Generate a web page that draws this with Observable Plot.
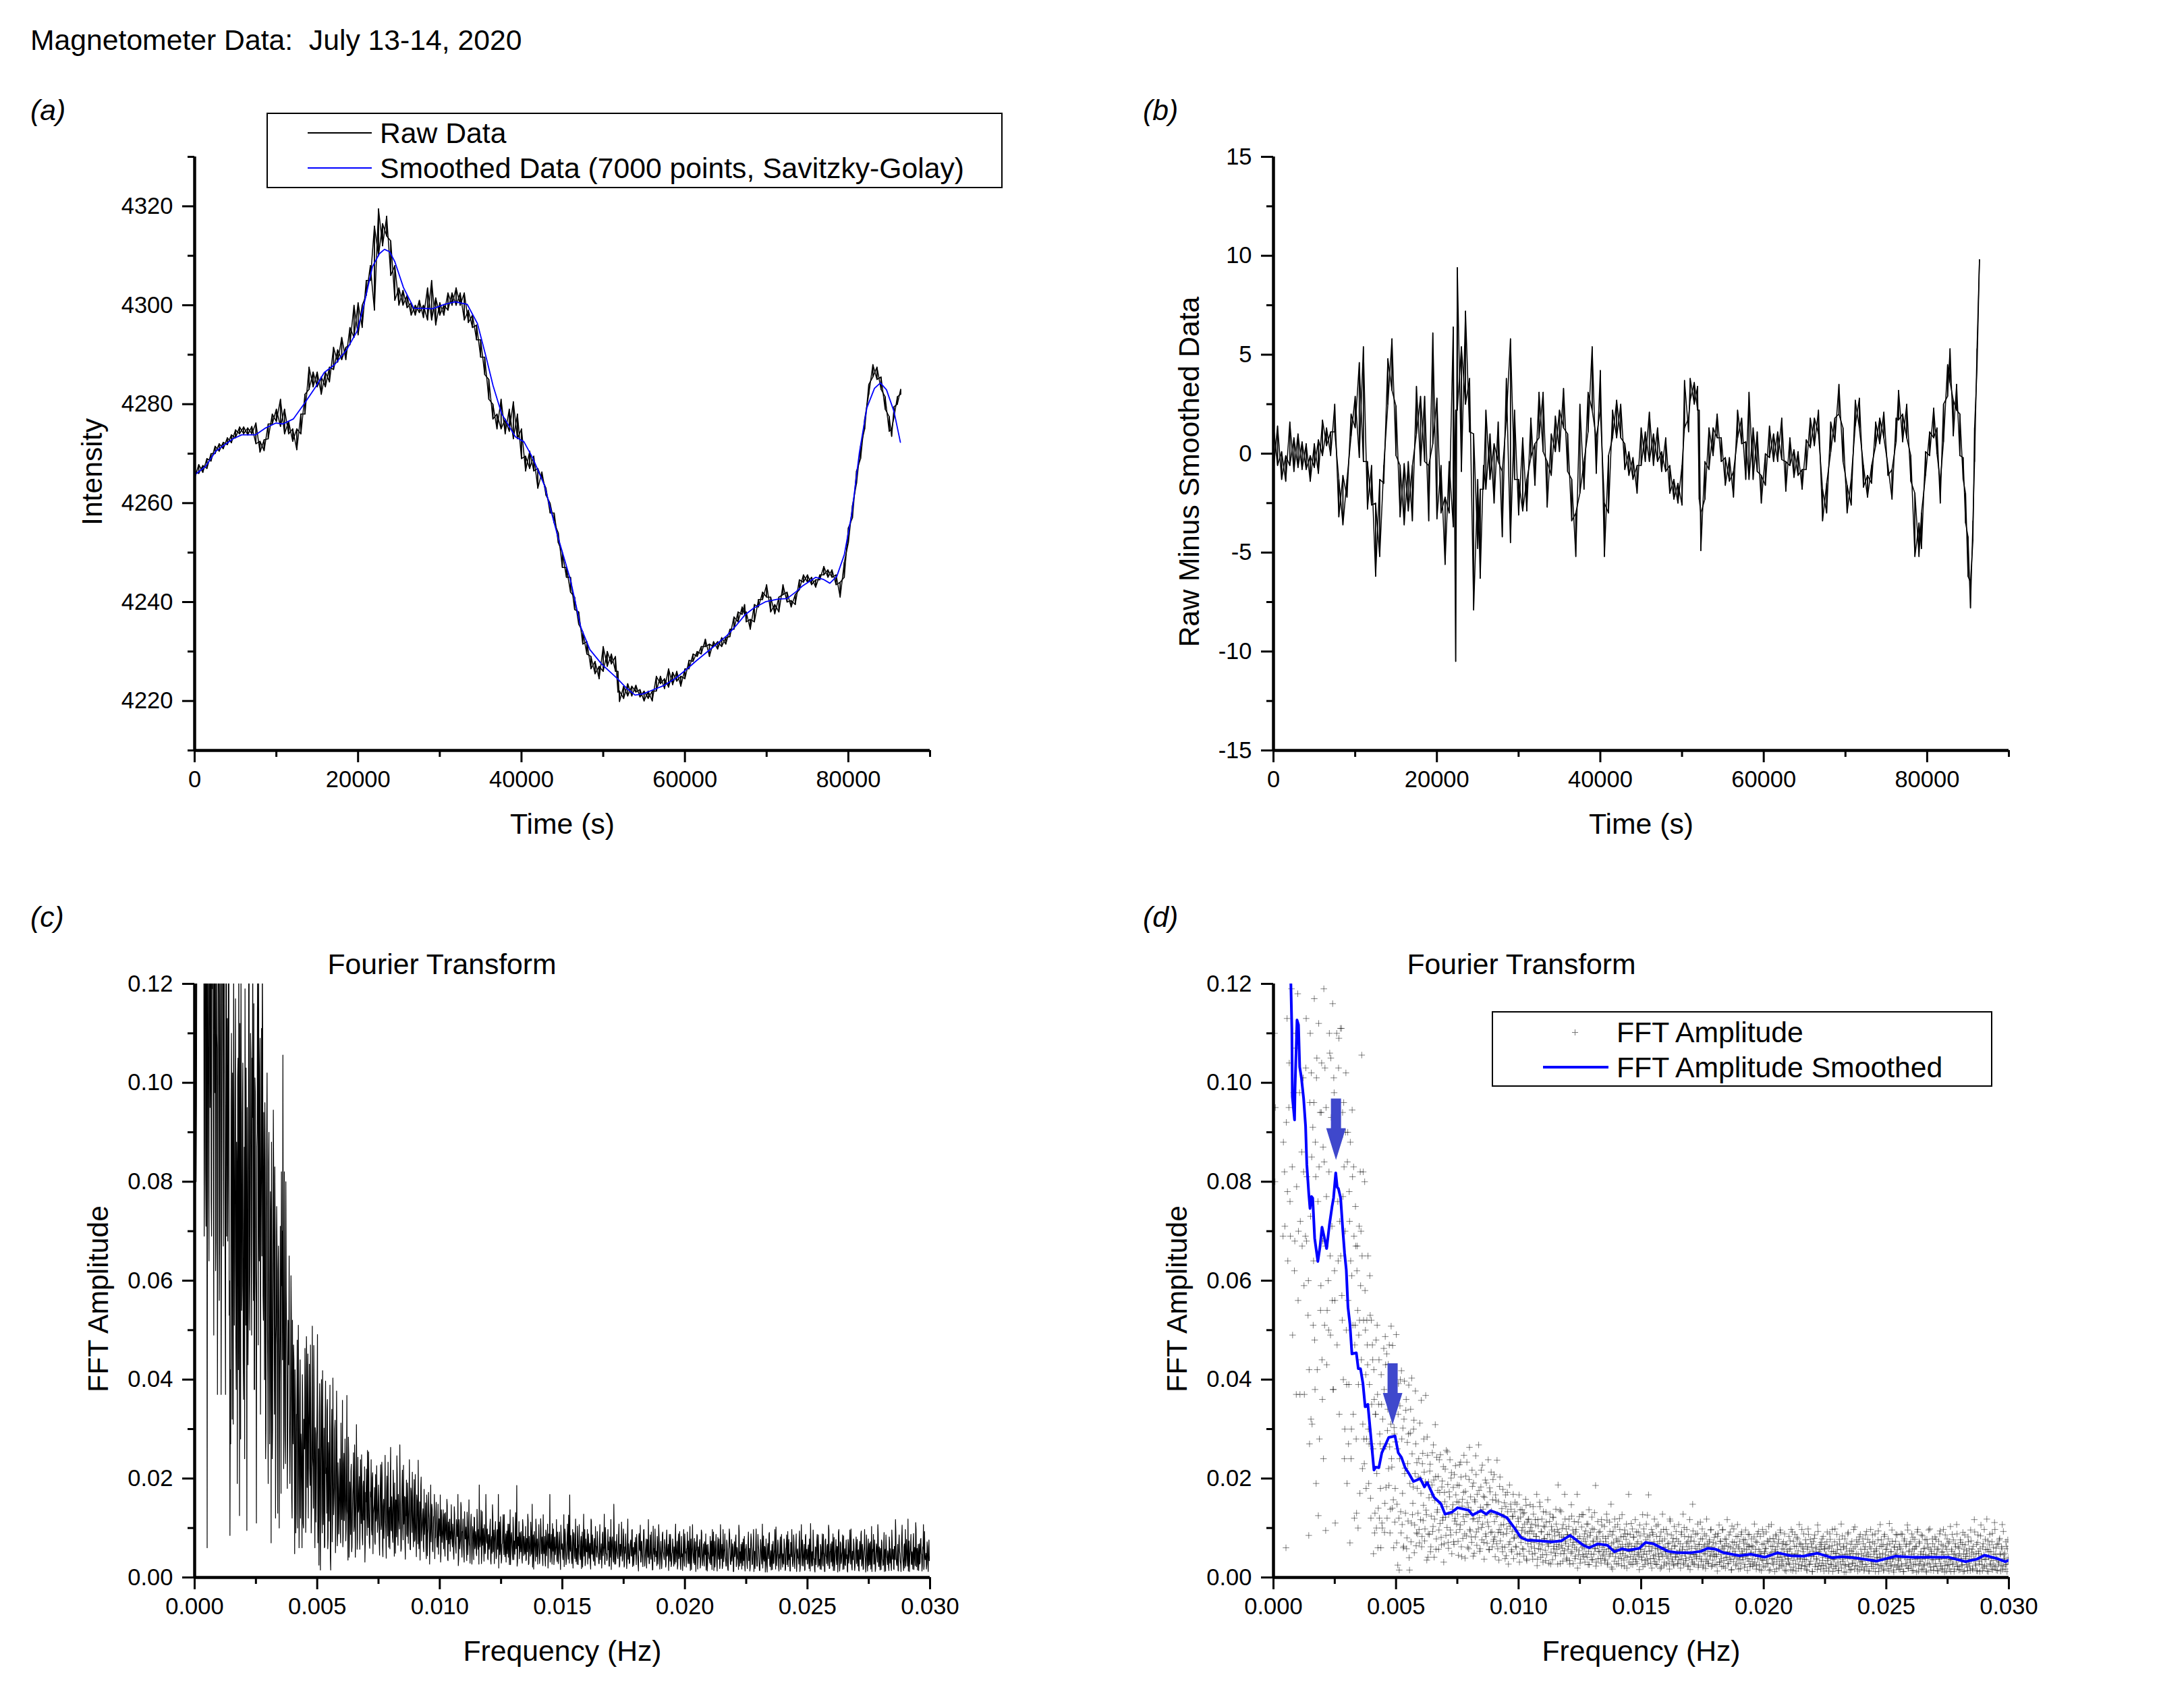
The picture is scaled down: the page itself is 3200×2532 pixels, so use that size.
<!DOCTYPE html>
<html><head><meta charset="utf-8">
<script src="https://cdn.jsdelivr.net/npm/d3@7"></script>
<script src="https://cdn.jsdelivr.net/npm/@observablehq/plot@0.6"></script>
<style>
html,body{margin:0;padding:0;background:#fff}
#page{position:relative;width:3200px;height:2532px;overflow:hidden;font-family:"Liberation Sans",Arial,sans-serif;color:#000;background:#fff}
#page>svg{position:absolute;overflow:visible}
.t{position:absolute;white-space:pre;font-size:42.7px;line-height:1;transform:translateY(-50%)}
.box{position:absolute;border:2px solid #000;background:#fff;box-sizing:border-box}
.ln{position:absolute}
</style></head><body><div id="page"></div>
<script>
// time (s), low, high of the raw trace in panel (a)
const rawA=[[0,4265,4266.5],[500,4266,4267.8],[1000,4266.2,4267.6],[1500,4267,4269],[2000,4268.5,4270],[2500,4270,4271.5],[3000,4270.5,4272],[3500,4271,4272.3],[4000,4271.8,4273.2],[4500,4272.2,4273.8],[5000,4273.2,4274.8],[5500,4274,4275.4],[6000,4274,4275.4],[6500,4273.8,4275.2],[7000,4274,4275.5],[7500,4272,4276.2],[8000,4270.3,4272.5],[8500,4270.6,4272.8],[9000,4273,4276],[9500,4276,4278],[10000,4276.5,4279],[10500,4275.5,4281],[11000,4274,4279],[11500,4274,4276.5],[12000,4272.5,4275],[12500,4270.8,4275],[13000,4274,4278],[13500,4278,4282],[14000,4283,4287.5],[14500,4283.5,4286.5],[15000,4283.5,4286.5],[15500,4282,4285.5],[16000,4283.5,4286.5],[16500,4284.5,4287.5],[17000,4287,4291.5],[17500,4288.5,4291],[18000,4289,4293.5],[18500,4289,4291.5],[19000,4292,4295.5],[19500,4293.5,4300],[20000,4294,4300.5],[20500,4295.5,4300],[21000,4302,4305],[21500,4305,4308],[22000,4299,4316],[22500,4310,4319.5],[23000,4312,4316.5],[23500,4314,4318],[24000,4306,4313],[24500,4301,4308],[25000,4300,4303.5],[25500,4300,4303],[26000,4299.5,4302],[26500,4298,4300.5],[27000,4298,4300],[27500,4298.5,4301],[28000,4297.5,4300],[28500,4297,4303.5],[29000,4297,4305],[29500,4296,4301.5],[30000,4298,4300.5],[30500,4298,4300],[31000,4299,4302.5],[31500,4300,4302.5],[32000,4300,4303.5],[32500,4300,4302.5],[33000,4297,4302.5],[33500,4296.5,4299],[34000,4295.5,4298],[34500,4293,4296],[35000,4289.5,4293],[35500,4286,4289.5],[36000,4281,4285],[36500,4277,4280],[37000,4275,4278],[37500,4275,4281],[38000,4274,4277],[38500,4274.5,4279],[39000,4273,4280.5],[39500,4273,4278],[40000,4269,4275],[40500,4266.5,4269.5],[41000,4267,4270.5],[41500,4266.5,4269.5],[42000,4263,4267],[42500,4265,4266.3],[43000,4261.6,4263],[43500,4258,4260],[44000,4256,4258],[44500,4252,4254],[45000,4247,4250],[45500,4245,4247],[46000,4242,4245],[46500,4238.5,4241],[47000,4235.5,4238],[47500,4231.5,4234],[48000,4229.5,4232],[48500,4226.5,4229],[49000,4225.5,4228],[49500,4224.5,4227],[50000,4226,4231],[50500,4227,4230],[51000,4227.5,4229.5],[51500,4226,4229],[51800,4221.8,4226],[52000,4219.9,4222],[52500,4220.5,4223],[53000,4221,4223.5],[53500,4221,4223],[54000,4221.8,4223.2],[54500,4220.8,4222.3],[55000,4220,4222],[55500,4220.5,4222],[56000,4220,4222],[56500,4222,4225],[57000,4223.5,4225],[57500,4222.5,4224.5],[58000,4222.8,4226.5],[58500,4223.3,4225.8],[59000,4224,4226],[59500,4223,4225],[60000,4224.5,4226.5],[60500,4226.5,4228.2],[61000,4228,4229.5],[61500,4229,4230],[62000,4229.5,4231],[62500,4231,4232.5],[63000,4229,4231.5],[63500,4231,4232],[64000,4230.5,4232],[64500,4231,4232.8],[65000,4231.5,4232.8],[65500,4233,4234.5],[66000,4234.5,4237],[66500,4236,4238],[67000,4237.5,4239],[67300,4237.5,4239.5],[67500,4236,4238],[68000,4234.5,4236.5],[68500,4236,4239.5],[69000,4239,4240.5],[69500,4240.5,4242],[70000,4241,4243.5],[70500,4238,4241],[71000,4237.6,4239.5],[71500,4238,4241],[72000,4241.5,4243.5],[72500,4240,4242],[73000,4239,4240.3],[73500,4239.5,4241.5],[74000,4242.5,4244.5],[74500,4244,4245.5],[75000,4244,4245.5],[75500,4243.5,4245],[76000,4243,4244.5],[76500,4244.5,4245.5],[77000,4245.5,4247.2],[77500,4245,4246.5],[78000,4245,4246.5],[78500,4243.5,4245.5],[79000,4241,4244],[79500,4245,4248],[80000,4252,4255],[80500,4257,4259.5],[81000,4264,4266.5],[81500,4269,4271.5],[82000,4275,4277],[82500,4282,4284],[83000,4285.5,4288],[83500,4285,4287.5],[84000,4283,4285.5],[84500,4279,4281.5],[85000,4274.5,4277.5],[85300,4273.5,4275],[85600,4277.5,4279.5],[86000,4280,4281.5],[86400,4282,4283]];
// smoothed trace in panel (a): time, intensity
const smoothA=[[0,4265.7],[1330,4267.4],[2590,4270.5],[4700,4273],[5750,4273.8],[7440,4273.8],[8700,4275.2],[9960,4276.2],[10800,4276],[12070,4277],[13540,4280.4],[14810,4283.5],[15860,4286.4],[17130,4288],[18600,4291],[19860,4294.7],[20700,4300],[21760,4307.8],[22600,4310.4],[23230,4311.3],[23870,4310.8],[24500,4308.8],[25550,4303.6],[26820,4299.4],[29130,4299.3],[30600,4300.2],[31880,4300.7],[33350,4300.2],[34610,4296.3],[35670,4289.5],[36510,4283.8],[37560,4278.1],[39250,4273.4],[40300,4272.4],[41350,4269.2],[42830,4263.5],[43460,4259.4],[44490,4253],[45970,4244.6],[47260,4234.9],[48360,4230.4],[49840,4227.4],[51680,4224.6],[52790,4222.7],[53890,4221.2],[54810,4221.4],[55730,4222],[57390,4223.1],[58870,4224.6],[60340,4226.6],[61450,4228.2],[63290,4230.7],[65130,4233.2],[66240,4235.2],[67340,4237.4],[68450,4238.8],[69920,4240.1],[71400,4240.6],[72500,4240.7],[73610,4242.1],[74350,4243.2],[76010,4245],[76930,4244.6],[77740,4243.8],[78590,4245.2],[79510,4249.6],[80430,4257.9],[81350,4270.2],[82270,4279.3],[83200,4283.2],[83930,4284.3],[84670,4282.9],[85590,4278.5],[86370,4272.3]];
// residual in panel (b): time, low, high
const rawB=[[0,-.8,1.4],[500,-.6,1.4],[1000,-1.3,.1],[1500,-1.4,-.1],[2000,-.6,1.6],[2500,-.9,.8],[3000,-.7,1],[3500,-.8,.6],[4000,-.8,.5],[4500,-1.4,-.1],[5000,-.7,.5],[5500,-1,.7],[6000,-.1,1.7],[6500,.4,1.3],[7000,-.1,1.1],[7500,1.1,2.5],[8000,-3.2,-1.3],[8500,-3.6,-1.1],[9000,-2.2,-1.3],[9500,.9,2],[10000,1.3,2.9],[10500,-.2,4.6],[11000,-.4,5.4],[11500,-2.8,-.4],[12000,-2.6,-.6],[12500,-6.2,-2.5],[13000,-5.2,-1.3],[13500,-1.5,-.6],[14000,2.5,4.8],[14500,3.2,5.8],[15000,-.1,2.4],[15500,-3.2,-.6],[16000,-3.6,-.5],[16500,-2.9,-.4],[17000,-3.4,-.6],[17500,1,3.4],[18000,-.6,2.9],[18500,-.4,2.9],[19000,-3.4,-.6],[19500,.5,6.1],[20000,-3.3,2.8],[20500,-3,-.6],[21000,-5.6,-2.2],[21500,-3,-.4],[22000,-3.7,6.4],[22300,-10.5,2.2],[22500,2.2,9.4],[23000,-.9,5.4],[23500,2.5,7.2],[24000,1.1,3.8],[24500,-7.9,1],[25000,-4.8,-1.3],[25300,-6.3,-1.8],[25700,-1.8,-.6],[26000,-1.8,2.2],[26500,-1.3,1],[27000,-2.5,.5],[27500,-.4,1.6],[28000,-4.2,-.9],[28500,1.7,3.8],[29000,-4.5,5.8],[29500,-1.3,2.2],[30000,-3.1,-1.3],[30500,-2.9,.8],[31000,-2.9,-1.3],[31500,-.2,1.8],[32000,-1.6,.5],[32500,.8,3.1],[33000,.1,3.1],[33500,-2.7,-.4],[34000,-1.1,1],[34500,.1,1.9],[35000,.1,2.2],[35500,1.3,3.3],[36000,-.9,1],[36500,-3.4,-1.3],[37000,-5.2,-3],[37500,-2,2.5],[38000,-1.8,-.4],[38500,1.1,3.1],[39000,2.2,5.4],[39500,-1,.8],[40000,2.2,4.2],[40500,-5.2,-2.5],[41000,-3,-.1],[41500,.8,2.2],[42000,.8,2.7],[42500,.8,2.5],[43000,-.8,.5],[43500,-1.1,.1],[44000,-1.3,-.2],[44500,-2,-.6],[45000,-.6,1.3],[45500,-.4,1.1],[46000,-.4,2.1],[46500,-.6,1],[47000,-.4,1.3],[47500,-.9,.1],[48000,-.9,.8],[48500,-2,-.6],[49000,-2.3,-1.3],[49500,-2.5,-1.5],[50000,-2.6,-.6],[50300,1.3,3.7],[50800,1.1,1.8],[51000,2.7,3.8],[51500,2.5,3.6],[51900,2.2,3.4],[52100,-2.3,2.2],[52300,-4.9,-3],[52800,-2.3,-.4],[53300,-.8,1.3],[53800,-.1,1.3],[54300,.8,2],[54800,-.4,.8],[55300,-1.6,-.2],[55800,-1.4,-.2],[56300,-2.2,-.9],[56800,.8,2.2],[57300,.5,1.8],[57800,-1.3,.6],[58200,-1.3,3.1],[58700,-1.3,1.3],[59200,-.9,1.1],[59700,-2.5,-1.1],[60200,-1.6,0],[60700,-.2,1.4],[61200,-.4,1],[61700,-.4,1.1],[62200,-.3,1.8],[62700,-1.9,-.4],[63200,-.6,.8],[63700,-1.2,.2],[64200,-1.1,.1],[64700,-1.8,-.8],[65200,-.8,.7],[65700,.3,1.8],[66200,.4,1.8],[66700,1,2.2],[67200,-3.4,-1.8],[67700,-3,-1.5],[68200,.1,1.6],[68700,.6,1.8],[69200,2,3.5],[69700,-.4,1.3],[70200,-3,-1.6],[70700,-2.6,-1.3],[71200,1.4,2.7],[71700,1.3,2.8],[72200,-1.7,-.6],[72700,-2.2,-1.1],[73200,-1.5,-.6],[73700,.4,1.6],[74200,.5,1.8],[74700,.8,2.1],[75200,-1.1,-.6],[75700,-2.3,-.8],[76200,.6,1.8],[76500,1.7,3.2],[77000,.6,2],[77500,.8,2.5],[78000,-1.4,-.1],[78500,-5.2,-2],[79000,-5.2,-3.5],[79300,-4.8,-3],[79800,-1.1,.1],[80300,-.1,1.1],[80800,.8,2.3],[81200,0,1.3],[81600,-2.5,-1.4],[82000,.6,2.5],[82500,2.9,4.5],[82800,3.6,5.3],[83200,.9,2.7],[83600,2.2,3.5],[84000,-.1,2],[84400,-1.3,-.2],[84700,-3.5,-2],[85000,-6.2,-4.2],[85300,-7.8,-6.5],[85600,-4.4,-3.4],[85800,-.4,1.3],[86100,4.3,5.3],[86400,9.8,9.8]];
// FFT amplitude, in units of 0.0001, one value every 0.00003 Hz
const fftBin=0.00003;
const fftE4=[9000,1900,800,1300,1600,2600,3000,2200,2800,3500,2400,1900,2100,690,1500,820,1800,60,1450,780,1700,950,1350,690,1600,1250,490,1900,1400,680,1100,370,1500,1180,700,1320,370,1650,1230,670,1400,820,370,1700,1030,680,1310,530,85,270,
1100,320,850,1250,510,960,480,880,190,1050,1300,125,830,1240,540,940,440,680,240,840,1030,95,770,540,1280,500,1100,650,1050,1300,560,380,1010,620,110,900,1100,1250,640,1090,720,1110,1260,570,940,400,830,300,900,500,
190,900,270,780,70,640,300,945,510,830,120,510,670,130,670,100,490,520,820,700,1056,220,820,280,800,500,180,520,430,300,270,610,160,520,270,440,48,360,130,330,100,510,60,350,120,270,60,350,100,260,
463,91,487,182,452,297,431,186,264,138,508,223,469,157,303,112,274,491,148,25,392,15,347,133,418,107,302,63,397,221,338,58,273,114,389,15,292,72,403,127,183,318,106,377,64,232,88,203,97,312,
117,358,83,251,146,213,98,368,127,284,41,193,87,229,62,168,252,103,197,118,309,57,243,137,204,96,172,248,81,183,116,224,68,153,122,257,101,188,59,173,238,86,212,129,147,72,208,119,167,108,
187,73,152,228,106,203,42,158,123,247,88,174,127,233,61,142,198,97,163,82,217,118,191,49,153,246,92,168,113,268,121,58,183,101,227,138,71,162,197,83,147,112,238,57,181,128,213,92,157,73,
208,82,167,123,237,58,153,97,203,91,128,62,178,107,151,38,143,89,172,118,67,187,103,138,52,123,168,79,133,96,61,148,87,113,167,48,122,83,137,101,57,131,92,158,37,112,68,118,93,147,
73,108,47,143,88,59,117,83,168,37,104,68,152,57,93,118,46,133,78,102,34,112,71,157,63,87,128,27,103,76,122,58,93,49,138,67,97,187,62,86,28,133,82,59,107,48,168,73,98,36,
87,63,118,27,83,147,52,96,71,113,38,92,57,168,79,46,123,29,67,102,61,127,42,88,73,48,108,82,26,137,63,91,47,122,36,72,97,58,186,31,78,113,53,67,93,38,117,61,83,47,
103,37,72,128,26,83,58,112,47,148,68,17,93,57,118,42,78,53,107,28,73,97,62,38,127,48,83,23,88,63,108,41,67,168,52,87,27,63,98,37,82,58,117,32,68,47,92,43,106,57,
68,36,127,47,88,26,63,108,37,82,167,53,71,28,97,62,87,38,118,46,27,83,58,107,42,73,18,92,47,128,61,24,78,52,97,43,68,57,29,118,48,86,37,72,26,103,63,41,78,47,
28,107,52,68,37,92,57,128,26,83,48,38,97,72,23,63,117,47,82,36,148,27,73,46,87,42,58,108,25,67,53,78,37,98,21,62,88,47,33,118,68,28,63,76,43,97,52,24,71,58,
43,87,47,26,83,57,106,31,73,38,62,97,23,52,78,41,68,117,28,63,48,92,37,16,72,58,98,42,47,83,27,107,62,36,73,18,87,53,41,77,58,26,96,47,67,38,63,87,22,48,
78,37,62,27,108,47,73,24,88,42,57,16,83,48,36,97,23,68,52,58,92,28,43,72,14,78,47,107,38,63,26,72,53,87,17,62,41,77,27,96,47,36,68,23,57,88,42,13,67,48,
37,83,26,58,97,47,14,73,42,87,28,63,46,78,18,107,38,67,24,62,52,88,37,23,68,16,57,98,47,26,77,43,61,12,72,48,86,27,58,36,106,23,52,67,17,63,78,41,24,57,
67,28,47,92,38,13,62,77,26,52,97,36,18,72,48,23,87,57,14,43,68,27,108,46,37,63,11,78,24,58,47,88,26,42,15,67,53,28,48,97,17,62,38,76,23,47,72,16,87,36,
48,27,68,14,57,86,43,22,77,47,13,62,97,28,37,72,18,52,88,26,58,41,76,12,47,107,24,63,38,67,16,87,46,27,57,36,78,13,68,23,52,96,37,15,62,26,73,48,86,24,
37,67,16,58,27,87,47,12,78,42,63,24,106,18,52,68,36,23,88,57,14,48,77,26,62,38,97,13,72,28,47,86,37,17,58,24,76,46,11,68,41,96,27,57,15,48,78,36,22,62,
28,77,47,14,58,37,88,23,67,16,52,97,38,24,62,13,78,47,26,72,36,12,57,87,27,46,17,68,41,107,23,62,15,48,76,38,24,67,12,57,86,42,26,48,14,72,58,23,96,37,
57,16,47,117,38,24,67,13,86,48,27,58,106,36,14,68,46,23,77,37,118,57,12,52,87,26,38,72,16,61,24,97,47,15,67,36,27,76,48,13,62,107,23,46,38,17,72,26,58,34];
// second reading of the same spectrum, half a bin later
const fftE4b=[1500,1100,950,2000,2300,2900,2500,3100,2000,2700,1950,2300,1240,880,1560,710,1380,920,1130,640,1490,1040,760,1720,1190,830,1510,980,620,1340,1070,790,1280,560,1430,980,720,1210,860,1560,1010,590,1270,690,1130,810,1390,600,420,960,
730,1020,310,910,640,1170,380,810,1010,420,760,1120,280,940,590,1040,360,870,1190,510,670,950,430,1210,600,820,1060,490,930,710,1160,380,980,560,870,1230,470,760,1030,330,890,650,1110,520,770,960,240,700,1020,390,
840,560,390,720,880,240,610,810,330,690,470,750,280,620,540,390,710,170,590,440,650,310,520,230,580,410,280,470,650,190,390,530,120,350,470,260,420,90,330,480,210,370,140,440,290,180,410,110,320,260,
380,150,430,270,120,340,220,470,90,310,240,140,380,60,290,180,350,70,260,330,120,240,400,90,280,170,60,320,210,130,360,80,230,290,40,190,340,110,250,150,300,50,210,270,90,180,130,240,70,200,
170,62,230,115,280,74,193,136,35,247,88,161,215,52,124,187,93,268,41,156,204,78,132,176,57,238,109,148,66,195,121,31,172,219,85,143,254,71,127,163,96,201,48,138,182,67,114,226,91,153,
128,45,186,97,233,62,144,79,172,113,39,205,84,151,127,58,263,94,136,71,184,43,119,157,82,208,65,131,98,176,53,142,217,76,108,164,37,125,88,191,69,147,103,56,173,91,134,62,198,77,
113,42,156,68,127,91,35,184,74,106,139,52,87,121,61,167,44,98,133,27,109,72,148,56,93,124,38,81,152,63,102,47,119,84,31,137,71,95,58,129,43,108,76,146,34,89,117,53,78,101,
62,94,37,128,71,49,106,83,24,117,58,76,143,41,92,66,31,104,79,55,132,46,87,68,29,113,74,51,96,36,121,63,84,44,108,57,27,91,72,136,48,65,99,33,81,54,118,69,39,86,
57,103,34,76,49,124,66,28,88,61,43,97,72,19,112,54,83,37,69,127,46,78,58,31,94,67,41,108,53,26,85,63,36,99,74,47,131,59,23,82,64,38,91,52,73,29,106,44,68,56,
34,79,52,116,29,64,43,93,58,21,86,49,71,33,102,56,27,74,61,39,119,48,82,24,67,54,35,96,44,77,19,88,59,31,69,42,109,53,26,81,46,63,37,92,28,72,51,16,84,57,
41,66,22,98,53,34,76,47,126,29,63,85,38,54,19,91,44,72,32,59,104,26,68,49,36,83,56,21,74,43,97,31,61,52,27,88,39,69,17,114,47,58,33,79,24,64,42,93,51,28,
73,36,54,19,87,44,62,29,101,48,34,69,56,23,82,41,16,74,59,31,94,46,27,63,52,38,89,21,67,43,112,33,57,78,25,49,66,18,84,37,53,29,72,44,96,22,61,35,47,81,
26,68,42,13,89,54,31,73,46,22,96,58,34,64,19,77,41,52,28,86,37,61,15,104,47,32,71,53,24,66,39,83,17,58,44,29,92,49,36,69,21,76,43,56,14,87,33,62,27,51,
64,23,46,82,31,57,17,71,38,93,26,52,42,14,67,34,88,49,21,59,36,74,28,103,44,16,63,51,29,79,37,12,56,84,32,47,69,19,41,91,24,58,33,72,46,15,66,27,53,38,
29,57,74,16,43,92,34,21,63,48,13,81,37,54,26,69,41,18,97,32,58,44,23,76,36,14,62,87,27,49,33,68,12,53,42,79,22,61,38,16,93,47,29,56,71,24,34,83,13,59,
46,18,72,34,59,21,88,43,27,64,12,53,37,98,23,49,66,31,14,77,42,56,19,84,33,61,26,47,11,69,38,91,22,54,43,16,73,29,58,36,102,24,48,67,13,39,82,31,57,21,
33,78,44,17,62,26,93,51,36,13,71,42,58,22,86,31,47,68,12,54,39,27,94,19,63,41,76,23,49,14,83,36,57,28,66,18,44,109,32,52,24,73,38,11,61,46,87,21,56,34,
17,62,39,88,23,51,12,74,43,28,67,36,96,19,54,31,72,46,14,81,27,58,37,63,11,92,42,24,69,33,52,16,84,47,26,59,38,13,77,29,61,44,98,21,53,36,68,14,48,82,
42,23,56,13,73,37,94,28,51,18,64,46,11,86,32,57,24,69,41,17,103,36,53,27,76,12,48,62,31,88,22,44,59,16,71,34,26,91,47,13,66,38,54,21,82,29,43,14,74,51,
18,63,36,92,27,48,14,71,53,33,12,84,44,26,62,19,97,37,56,23,13,74,41,66,28,52,17,89,34,47,111,22,59,38,14,68,31,79,46,24,58,16,93,36,49,27,63,12,76,41];
// smoothed FFT amplitude in panel (d): frequency, amplitude
const smoothF=[[.00071,.12],[.00075,.1108],[.00077,.0972],[.00086,.0925],[.00088,.0989],[.00093,.1074],[.00096,.1127],[.00102,.1117],[.00107,.1032],[.00114,.101],[.00123,.0968],[.00131,.0912],[.00136,.0835],[.00144,.0776],[.00149,.0746],[.00155,.077],[.0016,.0767],[.00168,.0686],[.00181,.0639],[.0019,.0669],[.00198,.0708],[.00208,.0686],[.00217,.0665],[.00228,.0712],[.00239,.075],[.00245,.0767],[.00254,.0818],[.0026,.0789],[.00265,.0786],[.00274,.0767],[.00282,.0708],[.0029,.0656],[.00297,.0622],[.00304,.0546],[.00312,.0512],[.0032,.0452],[.00338,.0454],[.00346,.0422],[.00355,.0422],[.00365,.0392],[.00374,.0345],[.00385,.035],[.00397,.0286],[.0041,.0217],[.00417,.0223],[.0043,.0222],[.00442,.0252],[.00453,.0264],[.0047,.0283],[.00496,.0286],[.00509,.0252],[.00522,.0243],[.00537,.0222],[.00554,.0209],[.00571,.0194],[.00599,.02],[.00616,.0183],[.00627,.0192],[.00655,.0162],[.00683,.0149],[.007,.0128],[.00728,.0132],[.00751,.0141],[.00796,.0136],[.00812,.0126],[.00846,.0135],[.00868,.0128],[.00885,.0135],[.00913,.013],[.00952,.0121],[.00986,.0098],[.01009,.0081],[.01037,.0075],[.01059,.0075],[.01135,.0072],[.01174,.0074],[.0121,.0085],[.01265,.0065],[.01288,.006],[.01323,.0068],[.01362,.0065],[.01391,.0052],[.01423,.0058],[.01447,.0055],[.01492,.0059],[.01518,.0071],[.0155,.0068],[.01609,.0053],[.01648,.005],[.01706,.005],[.01745,.0053],[.01771,.0059],[.01804,.0057],[.01836,.005],[.01901,.0044],[.01947,.0047],[.02005,.0041],[.02057,.005],[.02109,.0044],[.02161,.0043],[.02219,.0049],[.02278,.004],[.02323,.0042],[.02369,.004],[.02421,.0036],[.0246,.0033],[.02499,.0038],[.02538,.0043],[.02603,.0041],[.02668,.0041],[.02752,.0041],[.02823,.0032],[.02869,.0037],[.02901,.0045],[.02953,.0038],[.02986,.0032],[.03,.0035]];
// peak markers in panel (d): frequency, amplitude at the arrow tip
const peakArrows=[[.00255,.0844],[.00486,.0309]];
const timeMajor=[0,20000,40000,60000,80000], timeMinor=[10000,30000,50000,70000,90000];
const intensityMajor=[4220,4240,4260,4280,4300,4320], intensityMinor=[4210,4230,4250,4270,4290,4310,4330];
const residMajor=[-15,-10,-5,0,5,10,15], residMinor=[-12.5,-7.5,-2.5,2.5,7.5,12.5];
const freqMajor=[0,.005,.01,.015,.02,.025,.03], freqMinor=[.0025,.0075,.0125,.0175,.0225,.0275];
const ampMajor=[0,.02,.04,.06,.08,.1,.12], ampMinor=[.01,.03,.05,.07,.09,.11];

const page=document.getElementById("page");
const FONT='"Liberation Sans",Arial,sans-serif';
const zig=rows=>rows.flatMap(([t,lo,hi])=>[[t,lo],[t,hi]]);
const zag=rows=>rows.flatMap(([t,lo,hi])=>[[t,hi],[t,lo]]);
const fft=fftE4.flatMap((v,i)=>[[i*fftBin,v*1e-4],[(i+.5)*fftBin,fftE4b[i]*1e-4]]);

function axes(xMaj,xMin,yMaj,yMin,xFmt,yFmt,xDom,yDom,xLabel,yLabel,yOff){
  const tk={strokeWidth:3,fontSize:34.5,tickPadding:14};
  return [
    Plot.axisX({ticks:xMaj,tickSize:18,tickFormat:xFmt,label:null,...tk,tickPadding:12}),
    Plot.axisX({ticks:xMin,tickSize:10,tickFormat:()=>"",label:null,strokeWidth:3}),
    Plot.axisY({ticks:yMaj,tickSize:18,tickFormat:yFmt,label:null,...tk}),
    Plot.axisY({ticks:yMin,tickSize:10,tickFormat:()=>"",label:null,strokeWidth:3}),
    Plot.ruleX([xDom[0]],{strokeWidth:4.5}),
    Plot.ruleY([yDom[0]],{strokeWidth:4.5}),
    Plot.text([xLabel],{frameAnchor:"bottom",lineAnchor:"middle",dy:110,fontSize:42.7}),
    Plot.text([yLabel],{frameAnchor:"left",textAnchor:"middle",dx:yOff,dy:27,rotate:-90,fontSize:42.7})
  ];
}
function panel(left,top,xDom,yDom,marks){
  const svg=Plot.plot({
    width:1310,height:1080,marginLeft:160,marginRight:60,marginTop:40,marginBottom:160,
    x:{domain:xDom},y:{domain:yDom},
    style:{fontFamily:FONT,background:"transparent",color:"#000",overflow:"visible"},
    marks
  });
  svg.style.left=(left-160)+"px";svg.style.top=(top-40)+"px";
  page.appendChild(svg);
}
const sx=d=>String(d), fy2=d=>d.toFixed(2), fx3=d=>d.toFixed(3);
const TOP1=232, TOP2=1457.5, X1=288, X2=1887;

panel(X1,TOP1,[0,90000],[4210,4330],[
  Plot.line(zig(rawA),{x:"0",y:"1",stroke:"#000",strokeWidth:1.5}),
  Plot.line(zag(rawA),{x:"0",y:"1",stroke:"#000",strokeWidth:1.5}),
  Plot.line(smoothA,{x:"0",y:"1",stroke:"#0000ff",strokeWidth:1.8}),
  ...axes(timeMajor,timeMinor,intensityMajor,intensityMinor,sx,sx,[0,90000],[4210,4330],"Time (s)","Intensity",-151)
]);
panel(X2,TOP1,[0,90000],[-15,15],[
  Plot.line(zig(rawB),{x:"0",y:"1",stroke:"#000",strokeWidth:1.5}),
  Plot.line(zag(rawB),{x:"0",y:"1",stroke:"#000",strokeWidth:1.5}),
  ...axes(timeMajor,timeMinor,residMajor,residMinor,sx,sx,[0,90000],[-15,15],"Time (s)","Raw Minus Smoothed Data",-124)
]);
panel(X1,TOP2,[0,.03],[0,.12],[
  Plot.line(fft,{x:"0",y:"1",stroke:"#000",strokeWidth:1.2,clip:true}),
  ...axes(freqMajor,freqMinor,ampMajor,ampMinor,fx3,fy2,[0,.03],[0,.12],"Frequency (Hz)","FFT Amplitude",-142)
]);
const blockArrow={draw(c,l){const sw=7.5,hw=14.5,hl=47;c.moveTo(-sw,0);c.lineTo(sw,0);c.lineTo(sw,-(l-hl));c.lineTo(hw,-(l-hl));c.lineTo(0,-l);c.lineTo(-hw,-(l-hl));c.lineTo(-sw,-(l-hl));c.closePath();}};
panel(X2,TOP2,[0,.03],[0,.12],[
  Plot.dot(fft,{x:"0",y:"1",symbol:"plus",r:3.2,stroke:"#000",strokeOpacity:.5,strokeWidth:1,clip:true}),
  Plot.line(smoothF,{x:"0",y:"1",stroke:"#0000ff",strokeWidth:4,clip:true}),
  Plot.vector(peakArrows,{x:"0",y:"1",length:91,rotate:180,anchor:"end",shape:blockArrow,fill:"#3f48cc",stroke:"none"}),
  ...axes(freqMajor,freqMinor,ampMajor,ampMinor,fx3,fy2,[0,.03],[0,.12],"Frequency (Hz)","FFT Amplitude",-142)
]);

function label(text,x,y,extra){const d=document.createElement("div");d.className="t";d.textContent=text;d.style.left=x+"px";d.style.top=y+"px";if(extra)Object.assign(d.style,extra);page.appendChild(d);return d;}
function rect(cls,x,y,w,h,bg){const d=document.createElement("div");d.className=cls;Object.assign(d.style,{left:x+"px",top:y+"px",width:w+"px",height:h+"px"});if(bg)d.style.background=bg;page.appendChild(d);}
label("Magnetometer Data:  July 13-14, 2020",45,59);
const it={fontStyle:"italic"};
label("(a)",45,163,it);label("(b)",1694,163,it);label("(c)",45,1359,it);label("(d)",1694,1359,it);
const cen={transform:"translate(-50%,-50%)"};
label("Fourier Transform",655,1429,cen);label("Fourier Transform",2255,1429,cen);
rect("box",395,167,1091,112);
rect("ln",456,196,95,1.6,"#000");rect("ln",456,248,95,2,"#0000ff");
label("Raw Data",563,197);label("Smoothed Data (7000 points, Savitzky-Golay)",563,249);
rect("box",2211,1499,742,112);
rect("ln",2329.5,1529.5,9,1,"#777");rect("ln",2333.5,1525.5,1,9,"#777");
rect("ln",2287,1580,97,4,"#0000ff");
label("FFT Amplitude",2396,1530);label("FFT Amplitude Smoothed",2396,1582);
</script></body></html>
